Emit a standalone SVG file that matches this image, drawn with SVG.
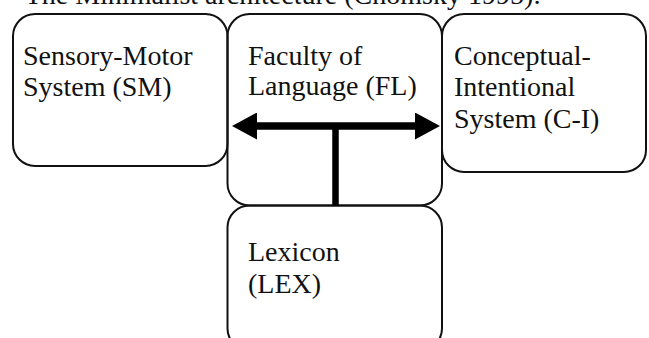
<svg xmlns="http://www.w3.org/2000/svg" width="649" height="338" viewBox="0 0 649 338">
  <style>
    .box { fill: none; stroke: #111; stroke-width: 2; }
    .lbl { font-family: "Liberation Serif", "Times New Roman", serif; font-size: 28px; fill: #111; }
    .conn { stroke: #000; fill: none; }
  </style>
  <defs>
    <marker id="head" viewBox="0 0 25 27" refX="1" refY="13.5" markerWidth="25" markerHeight="27" markerUnits="userSpaceOnUse" orient="auto-start-reverse">
      <path d="M0,0 L25,13.5 L0,27 Z" fill="#000"/>
    </marker>
  </defs>
  <rect width="649" height="338" fill="#fff"/>
  <text class="lbl" x="541" y="4" text-anchor="end">The Minimalist architecture (Chomsky 1995):</text>
  <g id="sm">
    <rect class="box" x="13" y="14" width="214.5" height="152" rx="22" ry="22"/>
    <text class="lbl" x="23" y="65">Sensory-Motor</text>
    <text class="lbl" x="23" y="96">System (SM)</text>
  </g>
  <g id="fl">
    <rect class="box" x="227.5" y="14" width="214.5" height="191.5" rx="22" ry="22"/>
    <text class="lbl" x="248" y="65">Faculty of</text>
    <text class="lbl" x="248" y="95">Language (FL)</text>
  </g>
  <g id="ci">
    <rect class="box" x="442" y="14" width="204" height="158" rx="22" ry="22"/>
    <text class="lbl" x="454" y="65">Conceptual-</text>
    <text class="lbl" x="454" y="96">Intentional</text>
    <text class="lbl" x="454" y="128">System (C-I)</text>
  </g>
  <g id="lex">
    <rect class="box" x="227.5" y="205.5" width="214.5" height="145" rx="22" ry="22"/>
    <text class="lbl" x="248" y="261">Lexicon</text>
    <text class="lbl" x="248" y="293">(LEX)</text>
  </g>
  <g id="connectors">
    <path class="conn" d="M256,126 H416" stroke-width="7.5" marker-start="url(#head)" marker-end="url(#head)"/>
    <path class="conn" d="M335.5,126 V205.5" stroke-width="6.5"/>
  </g>
</svg>
